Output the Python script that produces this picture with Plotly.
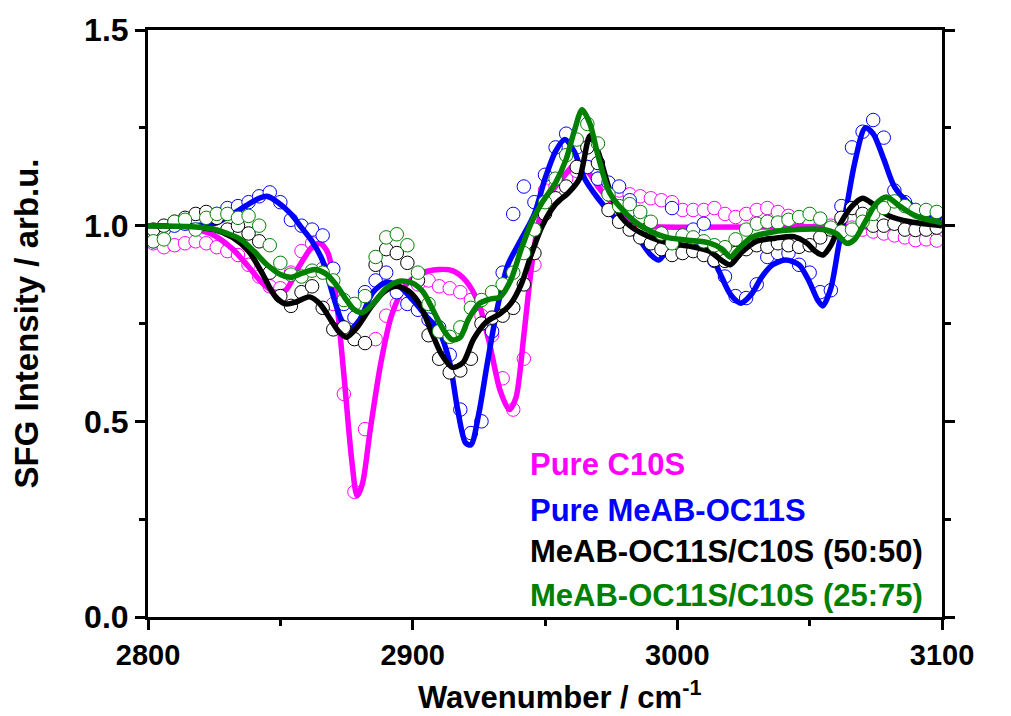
import numpy as np
import plotly.graph_objects as go

# Measured wavenumber grid (cm^-1) shared by all spectra
wn = np.arange(2802, 3100, 4)

# Normalised SFG intensities (data points)
c10s_pts = [0.955, 0.945, 0.95, 0.955, 0.96, 0.955, 0.945, 0.935, 0.925, 0.90,
            0.87, 0.845, 0.84, 0.88, 0.935, 0.955, 0.89, 0.80, 0.57, 0.32,
            0.48, 0.71, 0.77, 0.80, 0.82, 0.85, 0.86, 0.845, 0.84, 0.83,
            0.81, 0.77, 0.72, 0.61, 0.53, 0.66, 0.90, 1.09, 1.10, 1.12,
            1.14, 1.15, 1.12, 1.10, 1.09, 1.08, 1.075, 1.07, 1.065, 1.06,
            1.04, 1.04, 1.04, 1.045, 1.03, 1.022, 1.03, 1.04, 1.045, 1.035,
            1.025, 1.02, 1.01, 1.0, 1.0, 1.0, 0.995, 0.99, 0.985, 0.98,
            0.975, 0.97, 0.963, 0.965, 0.962]
meab_pts = [0.96, 0.99, 1.00, 1.005, 1.01, 1.02, 1.03, 1.045, 1.05, 1.06,
            1.075, 1.085, 1.06, 1.015, 1.0, 0.99, 0.975, 0.89, 0.80, 0.765,
            0.83, 0.86, 0.88, 0.83, 0.80, 0.785, 0.76, 0.74, 0.67, 0.53,
            0.47, 0.50, 0.73, 0.88, 1.03, 1.10, 1.06, 1.13, 1.20, 1.235,
            1.20, 1.15, 1.12, 1.11, 1.10, 1.065, 1.02, 0.97, 0.95, 1.045,
            0.97, 0.99, 1.005, 0.91, 0.87, 0.82, 0.815, 0.85, 0.92, 0.93,
            0.93, 0.90, 0.88, 0.83, 0.835, 1.05, 1.20, 1.24, 1.27, 1.225,
            1.09, 1.06, 1.04, 1.035, 1.025]
mix50_pts = [0.99, 1.00, 1.01, 1.02, 1.03, 1.035, 1.02, 0.99, 1.0, 0.98,
             0.96, 0.88, 0.82, 0.795, 0.83, 0.845, 0.79, 0.735, 0.74, 0.71,
             0.70, 0.90, 0.94, 0.93, 0.905, 0.86, 0.72, 0.66, 0.625, 0.63,
             0.66, 0.75, 0.765, 0.77, 0.79, 0.85, 0.93, 1.03, 1.07, 1.10,
             1.15, 1.20, 1.16, 1.04, 1.01, 0.99, 0.97, 0.955, 0.94, 0.925,
             0.93, 0.935, 0.925, 0.912, 0.91, 0.93, 0.94, 0.95, 0.946, 0.955,
             0.95, 0.946, 0.95, 0.97, 0.99, 1.02, 1.045, 1.03, 1.0, 1.0,
             1.005, 0.99, 0.989, 0.99, 0.995]
mix25_pts = [0.96, 0.965, 1.01, 1.015, 0.99, 1.02, 1.03, 1.03, 1.02, 1.025,
             1.0, 0.95, 0.905, 0.875, 0.87, 0.885, 0.88, 0.86, 0.81, 0.80,
             0.82, 0.92, 0.97, 0.978, 0.95, 0.88, 0.80, 0.73, 0.716, 0.74,
             0.79, 0.81, 0.83, 0.85, 0.88, 0.93, 0.99, 1.06, 1.12, 1.18,
             1.22, 1.26, 1.21, 1.08, 1.05, 1.055, 1.035, 1.01, 0.98, 0.955,
             0.975, 0.97, 0.96, 0.95, 0.945, 0.965, 0.99, 1.005, 1.01, 1.008,
             1.015, 1.022, 1.03, 1.018, 0.995, 0.985, 0.99, 1.01, 1.03, 1.045,
             1.062, 1.05, 1.04, 1.04, 1.035]

# Fitted spectra (wavenumber, intensity)
c10s_fit_x = [2800, 2815, 2825, 2832, 2838, 2843, 2848, 2852, 2857, 2862, 2865, 2868,
              2871, 2874, 2877, 2879, 2881, 2884, 2888, 2892, 2897, 2903, 2910, 2915,
              2920, 2925, 2929, 2933, 2936.5, 2939, 2942, 2945, 2948, 2952, 2957, 2962,
              2966, 2970, 2975, 2980, 2986, 2992, 3000, 3050, 3100]
c10s_fit_y = [1.0, 0.995, 0.975, 0.94, 0.895, 0.855, 0.83, 0.835, 0.895, 0.945, 0.955, 0.93,
              0.82, 0.62, 0.40, 0.31, 0.34, 0.48, 0.65, 0.77, 0.845, 0.878, 0.888, 0.885,
              0.86, 0.80, 0.70, 0.58, 0.53, 0.56, 0.72, 0.90, 1.02, 1.08, 1.125, 1.16,
              1.14, 1.10, 1.06, 1.025, 1.0, 0.997, 0.996, 0.997, 0.997]

meab_fit_x = [2800, 2815, 2825, 2832, 2838, 2842, 2845, 2849, 2854, 2858, 2862, 2866,
              2870, 2873, 2876, 2880, 2885, 2890, 2895, 2900, 2905, 2910, 2914, 2917,
              2920, 2922, 2925, 2928, 2932, 2936, 2941, 2946, 2950, 2954, 2957.5, 2961,
              2965, 2970, 2975, 2980, 2985, 2990, 2993, 2997, 3002, 3007, 3012, 3016,
              3020, 3024, 3028, 3032, 3036, 3041, 3046, 3050, 3053, 3055, 3058, 3061,
              3064, 3067, 3071, 3074, 3078, 3082, 3087, 3093, 3100]
meab_fit_y = [1.0, 1.0, 1.005, 1.03, 1.055, 1.07, 1.075, 1.06, 1.03, 0.995, 0.96, 0.91,
              0.82, 0.76, 0.735, 0.76, 0.83, 0.855, 0.845, 0.81, 0.77, 0.73, 0.65, 0.53,
              0.445, 0.44, 0.52, 0.64, 0.79, 0.90, 0.965, 1.03, 1.12, 1.19, 1.22, 1.19,
              1.12, 1.07, 1.03, 1.0, 0.97, 0.925, 0.912, 0.945, 0.965, 0.96, 0.935, 0.88,
              0.825, 0.802, 0.825, 0.87, 0.90, 0.912, 0.90, 0.855, 0.81, 0.795, 0.84, 0.95,
              1.05, 1.16, 1.25, 1.235, 1.17, 1.10, 1.06, 1.035, 1.02]

mix50_fit_x = [2800, 2815, 2825, 2832, 2838, 2843, 2848, 2852, 2856, 2861, 2865, 2869,
               2872, 2875, 2879, 2884, 2889, 2894, 2899, 2903, 2907, 2911, 2915, 2919,
               2923, 2928, 2933, 2937, 2941, 2945, 2949, 2954, 2959, 2963, 2967, 2970,
               2974, 2978, 2983, 2990, 2997, 3005, 3012, 3017, 3020, 3024, 3030, 3037,
               3044, 3049, 3052, 3055, 3058, 3062, 3066, 3070, 3074, 3080, 3088, 3100]
mix50_fit_y = [1.0, 0.998, 0.99, 0.97, 0.935, 0.88, 0.82, 0.80, 0.805, 0.818, 0.80, 0.76,
               0.73, 0.715, 0.74, 0.79, 0.83, 0.845, 0.83, 0.795, 0.73, 0.67, 0.638, 0.65,
               0.71, 0.755, 0.775, 0.80, 0.85, 0.93, 1.0, 1.055, 1.085, 1.12, 1.23, 1.19,
               1.10, 1.03, 0.995, 0.97, 0.955, 0.947, 0.935, 0.91, 0.90, 0.93, 0.96, 0.968,
               0.972, 0.955, 0.935, 0.925, 0.95, 1.01, 1.05, 1.07, 1.055, 1.025, 1.01, 1.0]

mix25_fit_x = [2800, 2815, 2824, 2830, 2835, 2840, 2845, 2850, 2854, 2858, 2863, 2867,
               2871, 2875, 2878, 2881, 2885, 2890, 2895, 2900, 2904, 2908, 2912, 2915,
               2918, 2921, 2925, 2929, 2933, 2937, 2941, 2945, 2949, 2954, 2958, 2961,
               2964, 2967, 2970, 2974, 2978, 2984, 2990, 2996, 3004, 3012, 3017, 3020,
               3023, 3028, 3036, 3045, 3055, 3060, 3064, 3067, 3071, 3075, 3079, 3084,
               3090, 3100]
mix25_fit_y = [1.0, 0.998, 0.992, 0.98, 0.965, 0.935, 0.90, 0.875, 0.868, 0.878, 0.888, 0.878,
               0.85, 0.81, 0.785, 0.778, 0.80, 0.84, 0.858, 0.853, 0.83, 0.78, 0.73, 0.708,
               0.715, 0.76, 0.80, 0.812, 0.818, 0.86, 0.94, 1.01, 1.06, 1.11, 1.17, 1.24,
               1.296, 1.26, 1.18, 1.09, 1.05, 1.01, 0.985, 0.97, 0.963, 0.956, 0.94, 0.92,
               0.94, 0.97, 0.984, 0.99, 0.99, 0.98, 0.955, 0.965, 1.01, 1.055, 1.073, 1.05,
               1.025, 1.007]

series = [
    ("Pure C10S", "#FF00FF", c10s_pts, c10s_fit_x, c10s_fit_y),
    ("Pure MeAB-OC11S", "#0000FF", meab_pts, meab_fit_x, meab_fit_y),
    ("MeAB-OC11S/C10S (50:50)", "#000000", mix50_pts, mix50_fit_x, mix50_fit_y),
    ("MeAB-OC11S/C10S (25:75)", "#008000", mix25_pts, mix25_fit_x, mix25_fit_y),
]

FONT = "Liberation Sans, Arial, sans-serif"

fig = go.Figure()
for name, color, pts, fx, fy in series:
    fig.add_trace(go.Scatter(
        x=wn, y=pts, mode="markers", name=name, showlegend=False,
        marker=dict(symbol="circle", size=13.5, color="white",
                    line=dict(color=color, width=1)),
    ))
    fig.add_trace(go.Scatter(
        x=fx, y=fy, mode="lines", name=name, showlegend=False,
        line=dict(color=color, width=5.5, shape="spline", smoothing=0.8),
    ))

# Text legend inside the plot
legend_y = [0.259, 0.182, 0.111, 0.036]
for (name, color, *_), ly in zip(series, legend_y):
    fig.add_annotation(
        text=name, xref="paper", yref="paper", x=0.479, y=ly,
        xanchor="left", yanchor="middle", showarrow=False,
        font=dict(family=FONT, size=31, color=color, weight="bold"),
    )

# x-axis title, placed slightly right of centre below the tick labels
fig.add_annotation(
    text="Wavenumber / cm<sup>-1</sup>", xref="paper", yref="paper",
    x=0.518, y=-0.133, xanchor="center", yanchor="middle", showarrow=False,
    font=dict(family=FONT, size=31, color="black", weight="bold"),
)

axis_common = dict(
    showgrid=False, zeroline=False, showline=True, linecolor="black", linewidth=3,
    ticks="outside", tickcolor="black", tickwidth=3, ticklen=10,
)

fig.update_xaxes(
    range=[2800, 3100], dtick=100, mirror=True,
    minor=dict(dtick=50, ticks="outside", ticklen=6, tickwidth=3, tickcolor="black"),
    tickfont=dict(family=FONT, size=29, color="black", weight="bold"),
    **axis_common,
)
fig.update_yaxes(
    range=[0, 1.5], dtick=0.5, tickformat=".1f", mirror="ticks",
    minor=dict(dtick=0.25, ticks="outside", ticklen=6, tickwidth=3, tickcolor="black"),
    tickfont=dict(family=FONT, size=32, color="black", weight="bold"),
    title=dict(text="SFG Intensity / arb.u.",
               font=dict(family=FONT, size=33, color="black", weight="bold"), standoff=36),
    **axis_common,
)

fig.update_layout(
    width=1011, height=716, autosize=False,
    margin=dict(l=148, r=69, t=30, b=99),
    paper_bgcolor="white", plot_bgcolor="white",
)

fig.write_html("out.html")
